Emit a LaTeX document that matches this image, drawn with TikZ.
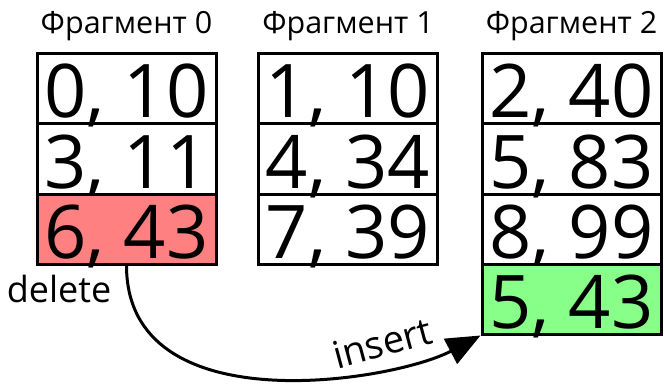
\documentclass[tikz,border=0pt]{standalone}
\usepackage{fontspec}
\setmainfont{Open Sans}
\usetikzlibrary{arrows.meta}
\definecolor{delred}{RGB}{255,128,128}
\definecolor{insgreen}{RGB}{136,255,136}
\begin{document}
\begin{tikzpicture}[x=1pt,y=-1pt,
  cell/.style={draw, line width=3pt, minimum width=179pt, inner sep=0pt,
    text height=64pt, text depth=6pt, font=\fontsize{74}{74}\selectfont},
  title/.style={anchor=base, inner sep=0pt, font=\fontsize{30.5}{30.5}\selectfont},
  oplabel/.style={anchor=base, inner sep=0pt, font=\fontsize{36}{36}\selectfont},
  move/.style={line width=3pt, -{Triangle[length=34pt,width=28pt]}}]
\useasboundingbox (0,0) rectangle (664,385);

% fragment titles
\node[title] (t0) at (126.5,34) {Фрагмент 0};
\node[title] (t1) at (348,34) {Фрагмент 1};
\node[title] (t2) at (571.5,34) {Фрагмент 2};

% fragment 0
\node[cell] (a0) at (126.5,89) {0, 10};
\node[cell] (a1) at (126.5,159) {3, 11};
\node[cell, fill=delred] (a2) at (126.5,229) {6, 43};

% fragment 1
\node[cell] (b0) at (348,89) {1, 10};
\node[cell] (b1) at (348,159) {4, 34};
\node[cell] (b2) at (348,229) {7, 39};

% fragment 2
\node[cell] (c0) at (571.5,89) {2, 40};
\node[cell] (c1) at (571.5,159) {5, 83};
\node[cell] (c2) at (571.5,229) {8, 99};
\node[cell, fill=insgreen] (c3) at (571.5,299) {5, 43};

% moving the record from fragment 0 to fragment 2
\node[oplabel] (del) at (59,302) {delete};
\draw[move] (a2.south) .. controls +(0,160) and +(-87,46) .. (c3.south west);
\node[oplabel, rotate=15, font=\fontsize{38}{38}\selectfont] (ins) at (386,356) {insert};
\end{tikzpicture}
\end{document}
